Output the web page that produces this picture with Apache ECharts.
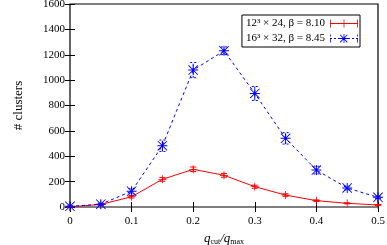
<!DOCTYPE html>
<html><head><meta charset="utf-8">
<script src="https://cdn.jsdelivr.net/npm/echarts@6/dist/echarts.min.js"></script>
<style>html,body{margin:0;padding:0;background:#fff}#c{width:387px;height:245px}</style>
</head><body><div id="c"></div>
<script>
var xValues = [0, 0.05, 0.1, 0.15, 0.2, 0.25, 0.3, 0.35, 0.4, 0.45, 0.5];
var redValues = [2, 20, 81, 218, 297, 250, 160, 94, 50, 29, 16];
var redErrors = [2, 5, 10, 15, 18, 15, 12, 10, 6, 4, 3];
var blueValues = [5, 22, 124, 483, 1079, 1231, 895, 541, 291, 150, 76];
var blueErrors = [3, 8, 20, 45, 60, 30, 55, 45, 30, 15, 10];
var yTicks = [0, 200, 400, 600, 800, 1000, 1200, 1400, 1600];
var xTicks = [0, 0.1, 0.2, 0.3, 0.4, 0.5];
var redName = '12³ × 24, β = 8.10';
var blueName = '16³ × 32, β = 8.45';

var FONT = 'Liberation Serif';
var RED = '#ff0000', BLUE = '#0000ff';
var plusPath = 'path://M0,4.5H10V5.5H0ZM4.5,0H5.5V10H4.5Z';
var starPath = 'path://M0,4.5H10V5.5H0ZM4.5,0H5.5V10H4.5ZM0.6,0L10,9.4L9.4,10L0,0.6ZM9.4,0L10,0.6L0.6,10L0,9.4Z';
var redIcon = 'path://M0,4.6H28V5.4H0ZM0,1H0.8V9H0ZM27.2,1H28V9H27.2ZM13.6,1H14.4V9H13.6Z';
var blueIcon = 'path://M0,4.6H2V5.4H0ZM4,4.6H6V5.4H4ZM8,4.6H10V5.4H8ZM18,4.6H20V5.4H18ZM22,4.6H24V5.4H22ZM26,4.6H28V5.4H26ZM0,1H0.8V3H0ZM0,5H0.8V9H0ZM27.2,1H28V3H27.2ZM27.2,5H28V9H27.2ZM9.5,4.6H18.5V5.4H9.5ZM13.6,0.5H14.4V9.5H13.6ZM10.4,1L17.6,8.6L17.0,9.2L9.8,1.6ZM17.0,1L17.6,1.6L10.4,9.2L9.8,8.6Z';

function pairs(vals){ return xValues.map(function(x,i){ return [x, vals[i]]; }); }
function errData(vals, errs){ return xValues.map(function(x,i){ return [x, vals[i]-errs[i], vals[i]+errs[i]]; }); }
function errRender(color, dashed){
  return function(params, api){
    var lo = api.coord([api.value(0), api.value(1)]);
    var hi = api.coord([api.value(0), api.value(2)]);
    var w = 3;
    var st = {stroke: color, lineWidth: 1, lineDash: dashed ? [2,2] : null};
    return {type:'group', children:[
      {type:'line', shape:{x1:lo[0], y1:lo[1], x2:hi[0], y2:hi[1]}, style:st},
      {type:'line', shape:{x1:lo[0]-w, y1:lo[1], x2:lo[0]+w, y2:lo[1]}, style:st},
      {type:'line', shape:{x1:hi[0]-w, y1:hi[1], x2:hi[0]+w, y2:hi[1]}, style:st}
    ]};
  };
}

var chart = echarts.init(document.getElementById('c'), null, {renderer:'canvas'});
var tickCommon = {show:true, inside:true, length:5, lineStyle:{color:'#000', width:1}};
chart.setOption({
  animation:false,
  backgroundColor:'#fff',
  textStyle:{fontFamily:FONT},
  grid:{left:70, right:9, top:4, bottom:38, containLabel:false, outerBoundsMode:'none',
        show:true, borderColor:'#000', borderWidth:1.2, backgroundColor:'transparent'},
  legend:{
    right:27, top:15, orient:'vertical', align:'right',
    itemWidth:28, itemHeight:10, itemGap:4, padding:[3,2,3,4],
    borderColor:'#000', borderWidth:1, backgroundColor:'#fff',
    textStyle:{fontFamily:FONT, fontSize:11, color:'#000'},
    data:[{name:redName, icon:redIcon}, {name:blueName, icon:blueIcon}]
  },
  xAxis:[{
    type:'value', min:0, max:0.5, interval:0.1, position:'bottom',
    axisLine:{show:false}, splitLine:{show:false}, axisTick:tickCommon,
    axisLabel:{fontFamily:FONT, fontSize:11, color:'#000', margin:9,
      formatter:function(v){ return xTicks.indexOf(Math.round(v*10)/10) >= 0 ? String(Math.round(v*10)/10) : ''; }},
    name:'{q|q}{s|cut}{n|/}{q|q}{s|max}', nameLocation:'middle', nameGap:25,
    nameTextStyle:{fontFamily:FONT, color:'#000', rich:{
      q:{fontFamily:FONT, fontStyle:'italic', fontSize:13, lineHeight:14, color:'#000'},
      n:{fontFamily:FONT, fontStyle:'italic', fontSize:13, lineHeight:14, color:'#000'},
      s:{fontFamily:FONT, fontSize:8, lineHeight:8, verticalAlign:'bottom', color:'#000'}
    }}
  },{
    type:'value', min:0, max:0.5, interval:0.1, position:'top',
    axisLine:{show:false}, splitLine:{show:false}, axisTick:tickCommon, axisLabel:{show:false}
  }],
  yAxis:[{
    type:'value', min:0, max:1600, interval:200, position:'left',
    axisLine:{show:false}, splitLine:{show:false}, axisTick:tickCommon,
    axisLabel:{fontFamily:FONT, fontSize:11, color:'#000', margin:5,
      formatter:function(v){ return yTicks.indexOf(v) >= 0 ? String(v) : ''; }},
    name:'# clusters', nameLocation:'middle', nameGap:45,
    nameTextStyle:{fontFamily:FONT, fontSize:13, color:'#000'}
  },{
    type:'value', min:0, max:1600, interval:200, position:'right',
    axisLine:{show:false}, splitLine:{show:false}, axisTick:tickCommon, axisLabel:{show:false}
  }],
  series:[
    {name:redName, type:'line', data:pairs(redValues), symbol:plusPath, symbolSize:8,
     lineStyle:{color:RED, width:1}, itemStyle:{color:RED, borderWidth:0}, z:3},
    {name:blueName, type:'line', data:pairs(blueValues), symbol:starPath, symbolSize:10,
     lineStyle:{color:BLUE, width:1, type:[3,3]}, itemStyle:{color:BLUE, borderWidth:0}, z:3},
    {name:redName, type:'custom', data:errData(redValues, redErrors), renderItem:errRender(RED,false), z:2},
    {name:blueName, type:'custom', data:errData(blueValues, blueErrors), renderItem:errRender(BLUE,true), z:2}
  ]
});
</script></body></html>
